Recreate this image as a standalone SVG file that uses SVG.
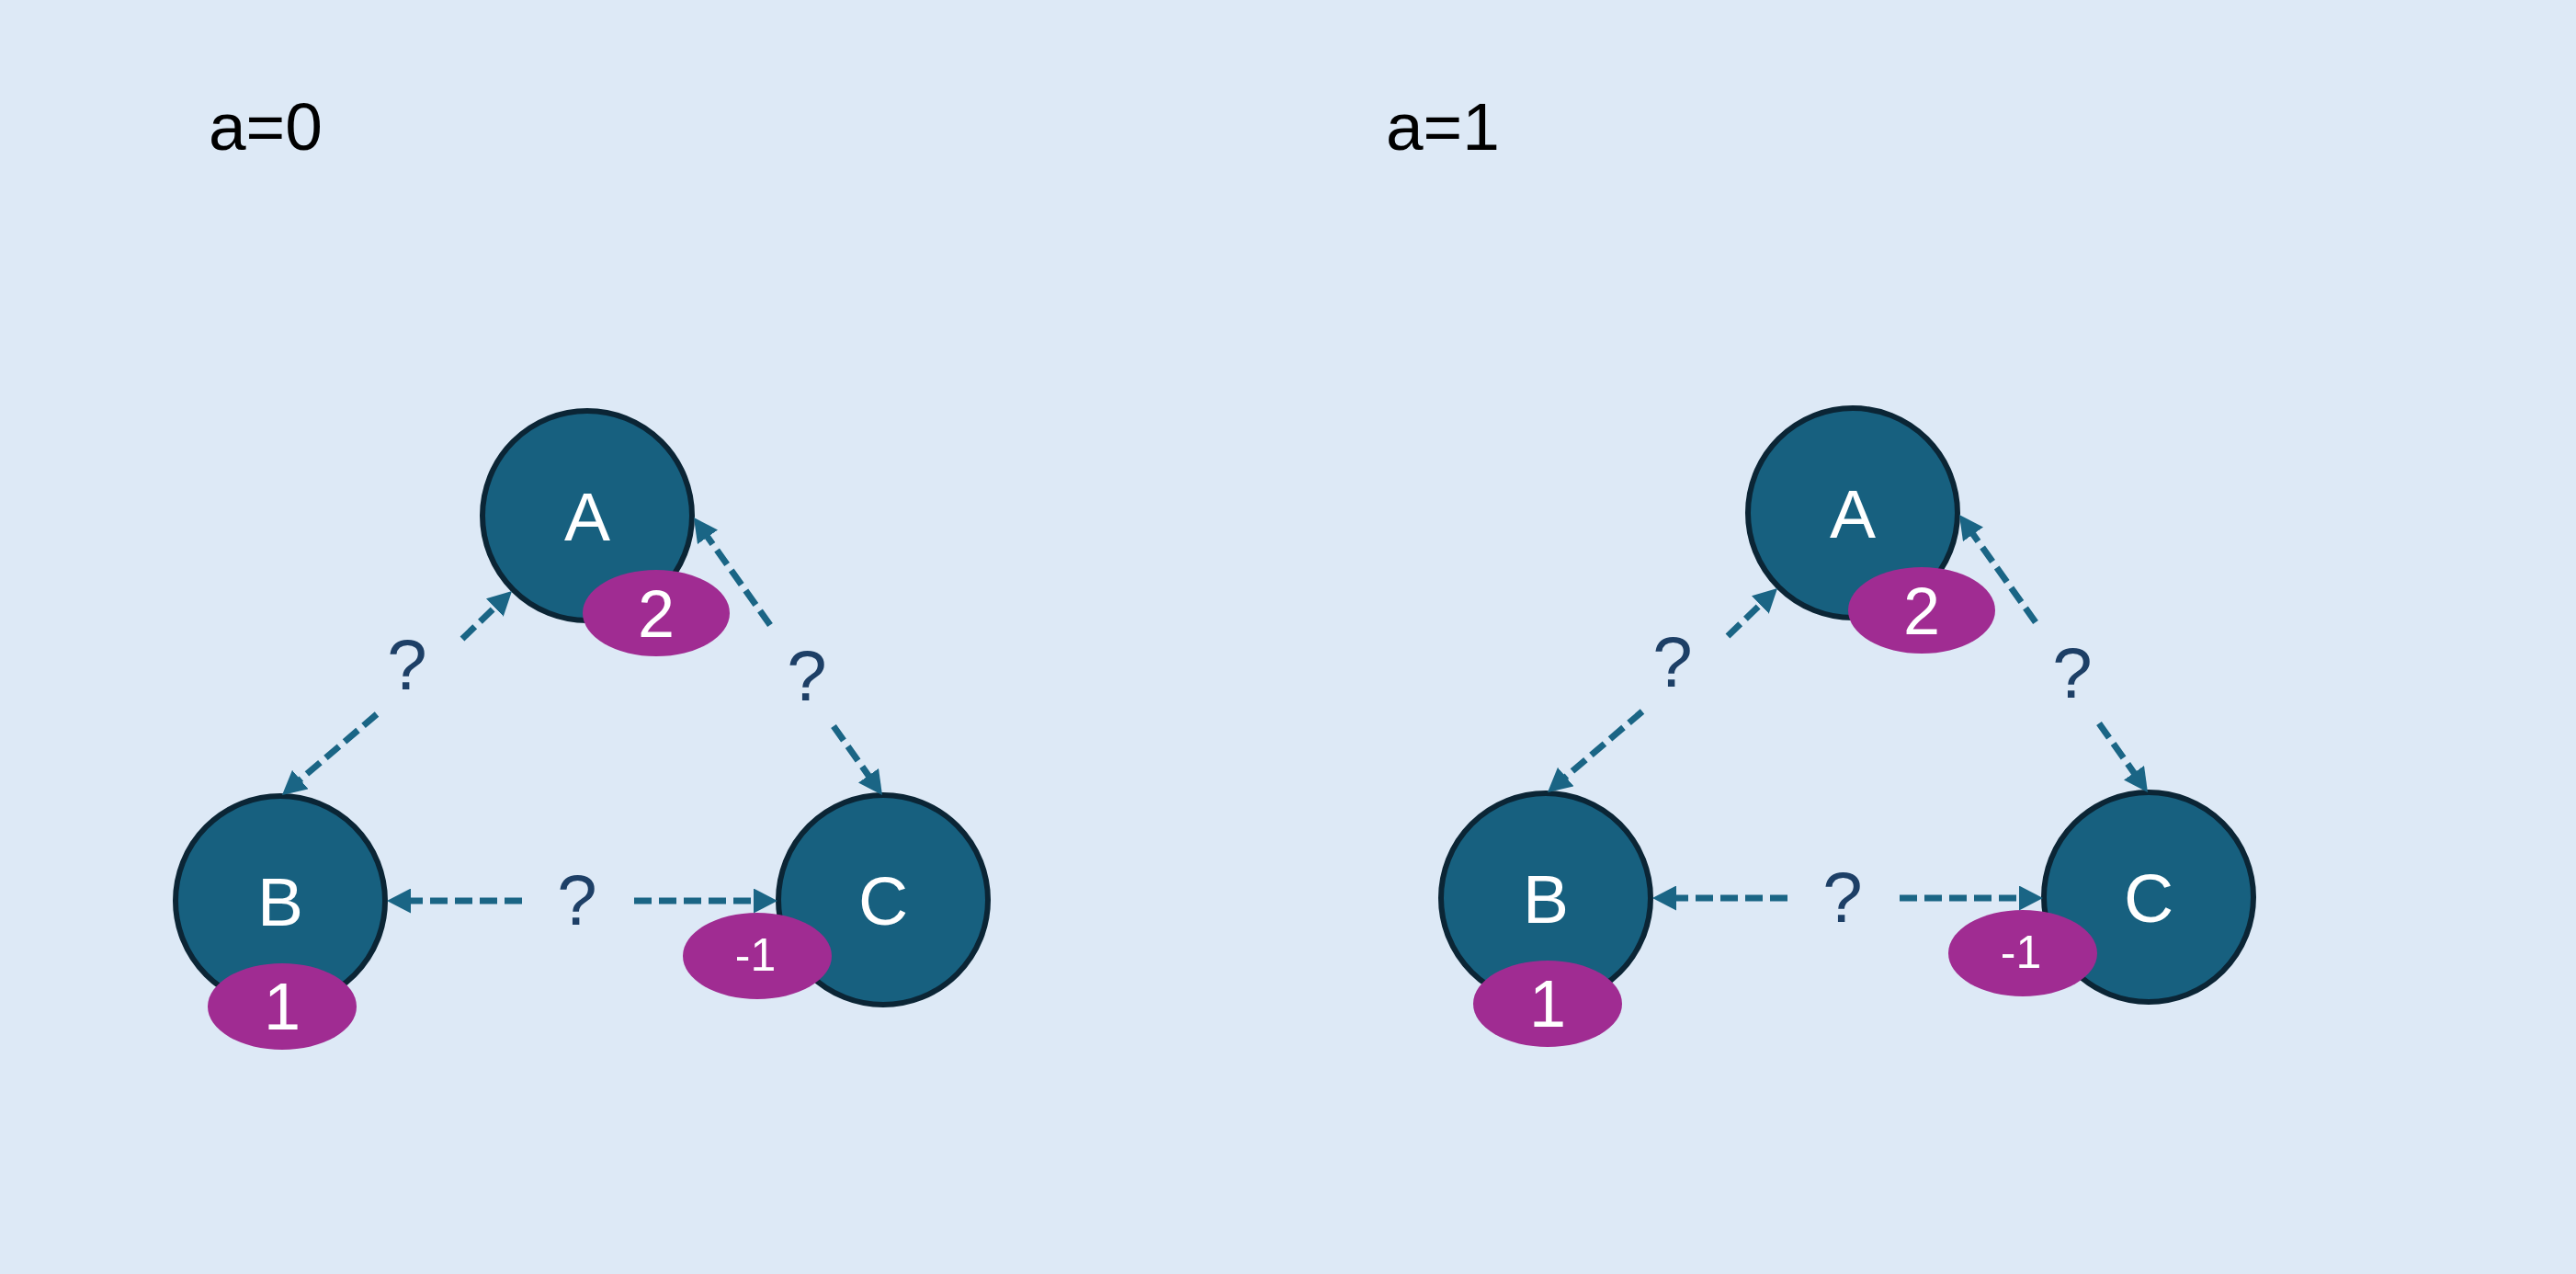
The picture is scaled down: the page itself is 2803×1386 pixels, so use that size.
<svg xmlns="http://www.w3.org/2000/svg" width="2803" height="1386" viewBox="0 0 2803 1386">
  <defs>
    <marker id="ah" markerUnits="userSpaceOnUse" markerWidth="26" markerHeight="27" refX="4" refY="13.5" orient="auto" viewBox="0 0 26 27">
      <path d="M0,0 L26,13.5 L0,27 z" fill="#1a6585"/>
    </marker>
    <style>
      .node { fill: #17607f; stroke: #0b2535; stroke-width: 6; }
      .badge { fill: #a02c92; }
      .nlabel { font-family: "Liberation Sans", Arial, sans-serif; font-size: 75px; fill: #ffffff; text-anchor: middle; }
      .blabel { font-family: "Liberation Sans", Arial, sans-serif; font-size: 72px; fill: #ffffff; text-anchor: middle; }
      .blabel-s { font-family: "Liberation Sans", Arial, sans-serif; font-size: 50px; fill: #ffffff; text-anchor: middle; }
      .conn { fill: none; stroke: #1a6585; stroke-width: 7; stroke-dasharray: 19 8; marker-end: url(#ah); }
      .q { font-family: "Liberation Sans", Arial, sans-serif; font-size: 78px; fill: #1d3f66; text-anchor: middle; }
      .title { font-family: "Liberation Sans", Arial, sans-serif; font-size: 73px; fill: #000000; }
    </style>
  </defs>
  <rect x="0" y="0" width="2803" height="1386" fill="#dde9f6"/>

  <text class="title" x="227" y="163">a=0</text>
  <text class="title" x="1508" y="163">a=1</text>

  <g id="diagram-a0">
    <g id="a0-node-A">
      <circle class="node" cx="639" cy="561" r="114"/>
      <text class="nlabel" x="639" y="588">A</text>
      <ellipse class="badge" cx="714" cy="667" rx="80" ry="47"/>
      <text class="blabel" x="714" y="693">2</text>
    </g>
    <g id="a0-node-B">
      <circle class="node" cx="305" cy="980" r="114"/>
      <text class="nlabel" x="305" y="1007">B</text>
      <ellipse class="badge" cx="307" cy="1095" rx="81" ry="47"/>
      <text class="blabel" x="307" y="1120">1</text>
    </g>
    <g id="a0-node-C">
      <circle class="node" cx="961" cy="979" r="114"/>
      <text class="nlabel" x="961" y="1006">C</text>
      <ellipse class="badge" cx="824" cy="1040" rx="81" ry="47"/>
      <text class="blabel-s" x="822" y="1056">-1</text>
    </g>
    <g id="a0-connectors">
      <line class="conn" x1="410" y1="777" x2="323.7" y2="850.7"/>
      <line class="conn" x1="503" y1="695" x2="541.2" y2="658.2"/>
      <text class="q" x="443" y="750">?</text>
      <line class="conn" x1="838" y1="680" x2="767.7" y2="581"/>
      <line class="conn" x1="907" y1="790" x2="947.3" y2="847"/>
      <text class="q" x="878" y="762">?</text>
      <line class="conn" x1="568" y1="980" x2="443" y2="980"/>
      <line class="conn" x1="690" y1="980" x2="824" y2="980"/>
      <text class="q" x="628" y="1006">?</text>
    </g>
  </g>

  <g id="diagram-a1" transform="translate(1377,-3)">
    <g id="a1-node-A">
      <circle class="node" cx="639" cy="561" r="114"/>
      <text class="nlabel" x="639" y="588">A</text>
      <ellipse class="badge" cx="714" cy="667" rx="80" ry="47"/>
      <text class="blabel" x="714" y="693">2</text>
    </g>
    <g id="a1-node-B">
      <circle class="node" cx="305" cy="980" r="114"/>
      <text class="nlabel" x="305" y="1007">B</text>
      <ellipse class="badge" cx="307" cy="1095" rx="81" ry="47"/>
      <text class="blabel" x="307" y="1120">1</text>
    </g>
    <g id="a1-node-C">
      <circle class="node" cx="961" cy="979" r="114"/>
      <text class="nlabel" x="961" y="1006">C</text>
      <ellipse class="badge" cx="824" cy="1040" rx="81" ry="47"/>
      <text class="blabel-s" x="822" y="1056">-1</text>
    </g>
    <g id="a1-connectors">
      <line class="conn" x1="410" y1="777" x2="323.7" y2="850.7"/>
      <line class="conn" x1="503" y1="695" x2="541.2" y2="658.2"/>
      <text class="q" x="443" y="750">?</text>
      <line class="conn" x1="838" y1="680" x2="767.7" y2="581"/>
      <line class="conn" x1="907" y1="790" x2="947.3" y2="847"/>
      <text class="q" x="878" y="762">?</text>
      <line class="conn" x1="568" y1="980" x2="443" y2="980"/>
      <line class="conn" x1="690" y1="980" x2="824" y2="980"/>
      <text class="q" x="628" y="1006">?</text>
    </g>
  </g>
</svg>
